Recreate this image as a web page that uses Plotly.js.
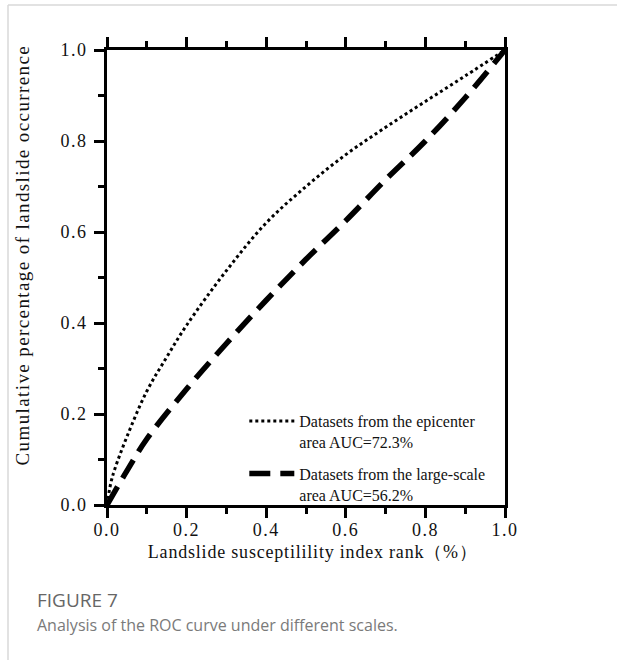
<!DOCTYPE html>
<html>
<head>
<meta charset="utf-8">
<script src="https://cdn.plot.ly/plotly-3.0.1.min.js"></script>
<style>
html,body{margin:0;padding:0;background:#fff;}
#chart{width:617px;height:660px;}
#chart .xtick text, #chart .ytick text { letter-spacing: 1.5px; }
#chart .annotation[data-index="0"] text { letter-spacing: 0.8px; }
#chart .annotation[data-index="1"] text { letter-spacing: 1.4px; }
</style>
</head>
<body>
<div id="chart"></div>
<script>
// Data
const epicenterX = [0, 0.01, 0.02, 0.05, 0.1, 0.15, 0.2, 0.3, 0.4, 0.5, 0.6, 0.7, 0.8, 0.9, 1.0];
const epicenterY = [0, 0.05, 0.08, 0.15, 0.25, 0.325, 0.395, 0.515, 0.62, 0.70, 0.77, 0.83, 0.887, 0.943, 1.0];
const largeX = [0, 0.05, 0.1, 0.2, 0.3, 0.4, 0.5, 0.6, 0.7, 0.8, 0.9, 1.0];
const largeY = [0, 0.075, 0.145, 0.255, 0.355, 0.45, 0.54, 0.625, 0.715, 0.8, 0.895, 1.0];
const seriesNames = ["Datasets from the epicenter<br>area AUC=72.3%", "Datasets from the large-scale<br>area AUC=56.2%"];
const tickVals = [0, 0.2, 0.4, 0.6, 0.8, 1.0];
const tickText = ["0.0", "0.2", "0.4", "0.6", "0.8", "1.0"];
const xTitle = "Landslide susceptilility index rank（%）";
const yTitle = "Cumulative percentage of landslide occurrence";
const captionTitle = "FIGURE 7";
const captionText = "Analysis of the ROC curve under different scales.";

const serif = "Liberation Serif, Times New Roman, serif";
const L = 107, R = 505, T = 50, B = 505, W = 617, H = 660;
const px = x => (x - L) / (R - L);
const py = y => (B - y) / (B - T);

const traces = [
  {x: epicenterX, y: epicenterY, name: seriesNames[0], legendgroup: "a", mode: "lines", type: "scatter",
   line: {color: "black", width: 3, dash: "dot", shape: "spline"}},
  {x: largeX, y: largeY, name: seriesNames[1], legendgroup: "b", mode: "lines", type: "scatter",
   line: {color: "black", width: 5.5, dash: "21px,10px", shape: "spline"}}
];

const axisCommon = {
  range: [0, 1], tickvals: tickVals, ticktext: tickText,
  ticks: "outside", ticklen: 10, tickwidth: 3, tickcolor: "black",
  showline: true, linewidth: 3, linecolor: "black",
  showgrid: false, zeroline: false, fixedrange: true,
  tickfont: {family: serif, size: 18, color: "#111"},
  minor: {dtick: 0.1, ticks: "outside", ticklen: 6, tickwidth: 3, tickcolor: "black", showgrid: false}
};

const layout = {
  width: W, height: H,
  margin: {l: L, r: W - R, t: T, b: H - B},
  paper_bgcolor: "white", plot_bgcolor: "white",
  showlegend: true,
  legend: {x: 0.345, y: 0.222, xanchor: "left", yanchor: "top", bgcolor: "rgba(0,0,0,0)", valign: "top",
           font: {family: serif, size: 16, color: "#111"}, tracegroupgap: 8, itemwidth: 45},
  xaxis: Object.assign({}, axisCommon, {mirror: "ticks", ticklabelstandoff: -4}),
  yaxis: Object.assign({}, axisCommon, {mirror: true, ticklabelstandoff: 3}),
  annotations: [
    {text: xTitle, xref: "paper", yref: "paper", x: px(312), y: py(552), xanchor: "center", yanchor: "middle",
     showarrow: false, font: {family: serif, size: 18, color: "#111"}},
    {text: yTitle, xref: "paper", yref: "paper", x: px(23), y: py(255), xanchor: "center", yanchor: "middle",
     textangle: -90, showarrow: false, font: {family: serif, size: 19, color: "#111"}},
    {text: captionTitle, xref: "paper", yref: "paper", x: px(35), y: py(600), xanchor: "left", yanchor: "middle",
     showarrow: false, font: {family: "Open Sans, sans-serif", size: 19, color: "#666666"}},
    {text: captionText, xref: "paper", yref: "paper", x: px(35), y: py(625), xanchor: "left", yanchor: "middle",
     showarrow: false, font: {family: "Open Sans, sans-serif", size: 16, color: "#7a7a7a"}}
  ],
  shapes: [
    {type: "line", xref: "paper", yref: "paper", x0: px(8), x1: px(617), y0: py(5), y1: py(5), line: {color: "#d9d9d9", width: 1.5}},
    {type: "line", xref: "paper", yref: "paper", x0: px(8), x1: px(8), y0: py(5), y1: py(660), line: {color: "#d9d9d9", width: 1.5}}
  ]
};

Plotly.newPlot("chart", traces, layout, {displayModeBar: false, staticPlot: true});
</script>
</body>
</html>
